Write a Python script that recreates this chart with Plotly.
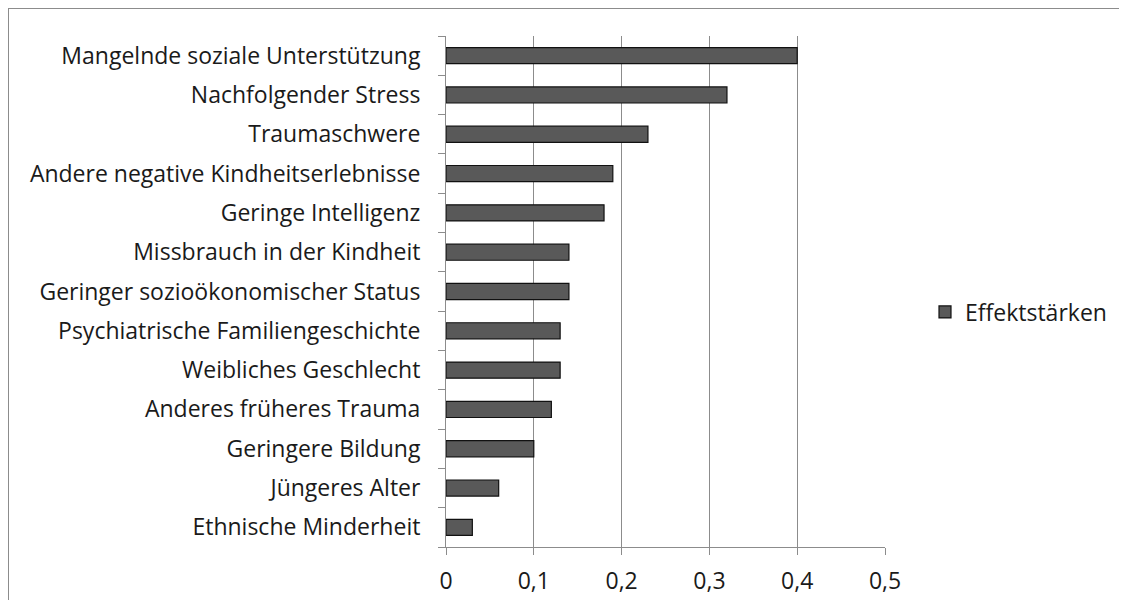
import plotly.graph_objects as go

categories = [
    "Mangelnde soziale Unterstützung",
    "Nachfolgender Stress",
    "Traumaschwere",
    "Andere negative Kindheitserlebnisse",
    "Geringe Intelligenz",
    "Missbrauch in der Kindheit",
    "Geringer sozioökonomischer Status",
    "Psychiatrische Familiengeschichte",
    "Weibliches Geschlecht",
    "Anderes früheres Trauma",
    "Geringere Bildung",
    "Jüngeres Alter",
    "Ethnische Minderheit",
]
values = [0.40, 0.32, 0.23, 0.19, 0.18, 0.14, 0.14, 0.13, 0.13, 0.12, 0.10, 0.06, 0.03]
series_name = "Effektstärken"
x_ticks = [0, 0.1, 0.2, 0.3, 0.4, 0.5]
x_tick_labels = ["0", "0,1", "0,2", "0,3", "0,4", "0,5"]

# page has 8px body margin; figure coordinates = page coordinates - 8
OFF = 8
W, H = 1127 - 2 * OFF, 608 - 2 * OFF
L, R, T, B = 446 - OFF, 885 - OFF, 36 - OFF, 547 - OFF

fig = go.Figure()
fig.add_trace(go.Bar(
    y=categories, x=values, orientation="h", name=series_name,
    marker=dict(color="#595959", line=dict(color="#111111", width=1.2)),
    showlegend=True,
))

pw, ph = R - L, B - T
def px_to_paper_x(px):
    return (px - OFF - L) / pw
def px_to_paper_y(py):
    return (B - (py - OFF)) / ph

FONT = "Open Sans, Lato, sans-serif"
FS = 23
fig.update_layout(
    width=W, height=H,
    margin=dict(l=L, r=W - R, t=T, b=H - B, autoexpand=False),
    paper_bgcolor="white", plot_bgcolor="white",
    font=dict(family=FONT, size=FS, color="#1a1a1a"),
    bargap=0.59,
    showlegend=True,
    legend=dict(xref="container", yref="container",
                x=(925 - OFF) / W, y=1 - (312 - OFF) / H, xanchor="left", yanchor="middle",
                font=dict(size=FS), bgcolor="rgba(0,0,0,0)", itemwidth=30),
    xaxis=dict(range=[0, 0.5], tickvals=x_ticks, ticktext=x_tick_labels,
               showgrid=True, gridcolor="#8c8c8c", gridwidth=1,
               showline=True, linecolor="#8c8c8c", linewidth=1,
               ticks="outside", ticklen=7, tickcolor="#8c8c8c",
               zeroline=False, fixedrange=True, tickfont=dict(size=FS),
               ticklabelstandoff=6),
    yaxis=dict(categoryorder="array", categoryarray=categories[::-1],
               showline=True, linecolor="#8c8c8c", linewidth=1,
               ticks="outside", ticklen=7, tickcolor="#8c8c8c",
               showgrid=False, zeroline=False, ticklabelstandoff=20,
               tickson="boundaries", tickfont=dict(size=FS)),
)

fig.add_shape(type="rect", xref="paper", yref="paper",
              x0=px_to_paper_x(8), x1=px_to_paper_x(1127 + 40),
              y0=px_to_paper_y(608 + 40), y1=px_to_paper_y(8),
              line=dict(color="#8c8c8c", width=2), fillcolor="rgba(0,0,0,0)", layer="below")

fig.write_html("out.html")
